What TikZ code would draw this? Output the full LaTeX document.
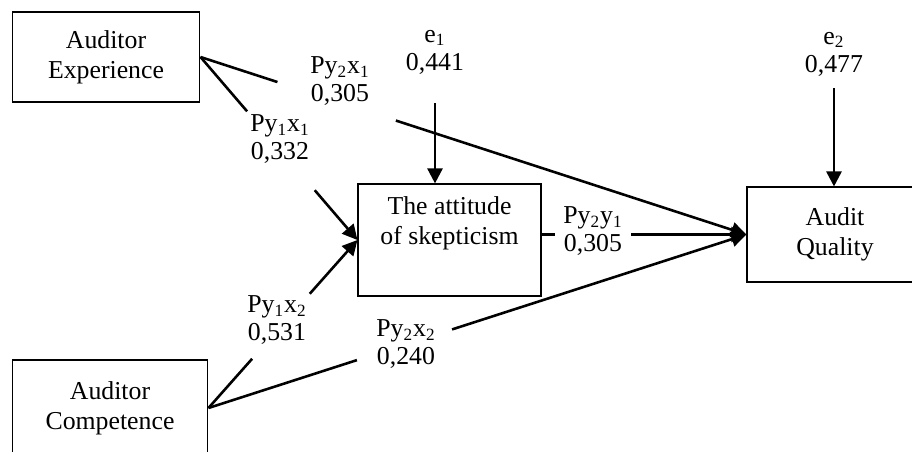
\documentclass[tikz,border=0pt]{standalone}
\usepackage{fontspec}
\setmainfont{Liberation Serif}
\usetikzlibrary{arrows.meta}

\begin{document}
\begin{tikzpicture}[x=0.01636cm, y=-0.01636cm,
    box/.style={rectangle, draw, line width=0.6pt, align=center,
                font=\fontsize{12}{14}\selectfont},
    coef/.style={align=center, inner sep=0pt, font=\fontsize{12}{13}\selectfont},
    lnk/.style={line width=1.2pt},
    arr/.style={line width=1.2pt, -{Triangle[length=7pt, width=7pt]}}
  ]
  \useasboundingbox (0,0) rectangle (912,452);

  % Variables
  \node[box, minimum width=3.07cm, minimum height=1.47cm] (exp) at (106,57)
       {Auditor\\Experience};
  \node[box, minimum width=3.20cm, minimum height=1.57cm] (comp) at (110,408)
       {Auditor\\Competence};
  \node[box, minimum width=2.99cm, minimum height=1.83cm] (sk) at (449.5,240)
       {The attitude\\of skepticism\\\strut};
  \node[box, minimum width=2.88cm, minimum height=1.55cm] (aq) at (835,234.5)
       {Audit\\Quality};

  % Residuals
  \node[coef] (e1) at (435,52) {e\textsubscript{1}\\0,441};
  \node[coef] (e2) at (834,54) {e\textsubscript{2}\\0,477};
  \coordinate (e1s) at (435,103);
  \coordinate (e2s) at (834,88);
  \draw[arr] (e1s) -- (e1s |- sk.north);
  \draw[arr] (e2s) -- (e2s |- aq.north);

  % Path coefficients
  \node[coef] (p21) at (340,81) {Py\textsubscript{2}x\textsubscript{1}\\0,305};
  \node[coef] (p11) at (280,139) {Py\textsubscript{1}x\textsubscript{1}\\0,332};
  \node[coef] (p12) at (277,320) {Py\textsubscript{1}x\textsubscript{2}\\0,531};
  \node[coef] (p22) at (406,344) {Py\textsubscript{2}x\textsubscript{2}\\0,240};
  \node[coef] (p2y) at (593,231) {Py\textsubscript{2}y\textsubscript{1}\\0,305};

  % Experience -> Quality
  \path (exp.east) -- coordinate[pos=0.141] (a1) coordinate[pos=0.358] (a2) (aq.west);
  \draw[lnk] (exp.east) -- (a1);
  \draw[arr] (a2) -- (aq.west);

  % Experience -> Skepticism
  \path (exp.east) -- coordinate[pos=0.297] (b1) coordinate[pos=0.728] (b2) (sk.west);
  \draw[lnk] (exp.east) -- (b1);
  \draw[arr] (b2) -- (sk.west);

  % Competence -> Skepticism
  \path (comp.east) -- coordinate[pos=0.293] (c1) coordinate[pos=0.68] (c2) (sk.west);
  \draw[lnk] (comp.east) -- (c1);
  \draw[arr] (c2) -- (sk.west);

  % Competence -> Quality
  \path (comp.east) -- coordinate[pos=0.276] (d1) coordinate[pos=0.453] (d2) (aq.west);
  \draw[lnk] (comp.east) -- (d1);
  \draw[arr] (d2) -- (aq.west);

  % Skepticism -> Quality
  \path (sk.east |- aq.west) -- coordinate[pos=0.068] (f1) coordinate[pos=0.437] (f2) (aq.west);
  \draw[lnk] (sk.east |- aq.west) -- (f1);
  \draw[arr] (f2) -- (aq.west);
\end{tikzpicture}
\end{document}
